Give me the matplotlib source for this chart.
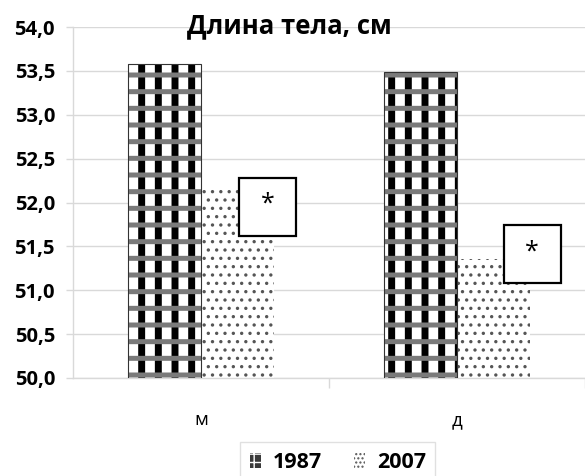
import matplotlib
matplotlib.use('Agg')
import matplotlib.pyplot as plt
import numpy as np
from matplotlib.patches import Rectangle, Patch
from matplotlib.ticker import FuncFormatter, MultipleLocator, FixedLocator

categories = ['м', 'д']
years = ['1987', '2007']
values_1987 = [53.58, 53.49]
values_2007 = [52.16, 51.36]
title = 'Длина тела, см'
mark = '*'

plt.rcParams['font.family'] = ['Open Sans', 'DejaVu Sans']

fig = plt.figure(figsize=(5.85, 4.76), dpi=100)
ax = fig.add_axes([73 / 585, 1 - 378 / 476, 512 / 585, 351 / 476])

x = np.arange(len(categories))
w = 0.285
grid_c = '#d9d9d9'

# 1987: black columns + grey bands (checkered look)
with plt.rc_context({'hatch.linewidth': 5.0}):
    ax.bar(x - w / 2, values_1987, w, color='white', edgecolor='black',
           hatch='|', linewidth=0, zorder=2)
with plt.rc_context({'hatch.linewidth': 3.6}):
    ax.bar(x - w / 2, values_1987, w, fill=False, edgecolor='#7a7a7a',
           hatch='-', linewidth=0, zorder=3)
ax.bar(x - w / 2, values_1987, w, fill=False, edgecolor='#333333', linewidth=0.8, zorder=4)

# 2007: small dots
with plt.rc_context({'hatch.linewidth': 1.2}):
    ax.bar(x + w / 2, values_2007, w, color='white', edgecolor='#555555',
           hatch='..', linewidth=0, zorder=2)

ax.set_xlim(-0.5, 1.5)
ax.set_ylim(50, 54)
ax.yaxis.set_major_locator(MultipleLocator(0.5))
ax.yaxis.set_major_formatter(FuncFormatter(lambda v, p: f'{v:.1f}'.replace('.', ',')))
ax.yaxis.grid(True, color=grid_c, linewidth=1.0, zorder=0)
ax.set_axisbelow(True)
ax.get_ygridlines()[-1].set_visible(False)

ax.set_xticks(x)
ax.set_xticklabels(categories, fontsize=13.5)
ax.xaxis.set_minor_locator(FixedLocator([0.5, 1.5]))
ax.tick_params(axis='x', which='major', length=0, pad=24)
ax.tick_params(axis='x', which='minor', length=7, color=grid_c, width=1)
ax.tick_params(axis='y', length=5, color=grid_c, width=1, pad=8, labelsize=14.5)
for lab in ax.get_yticklabels():
    lab.set_fontweight('bold')

for s in ['top', 'right']:
    ax.spines[s].set_visible(False)
for s in ['left', 'bottom']:
    ax.spines[s].set_color(grid_c)
    ax.spines[s].set_linewidth(1.0)

# significance boxes
box_pos = [(0.259, 51.95), (1.294, 51.41)]
bw, bh = 0.223, 0.66
for cx, cy in box_pos:
    ax.add_patch(Rectangle((cx - bw / 2, cy - bh / 2), bw, bh, facecolor='white',
                           edgecolor='black', linewidth=1.6, zorder=5))
    ax.text(cx, cy + 0.03, mark, ha='center', va='center', fontsize=18, zorder=6)

fig.text(0.495, 1 - 26 / 476, title, ha='center', va='center', fontsize=18.5, fontweight='bold')

# legend proxies (small swatches)
with plt.rc_context({'hatch.linewidth': 1.5}):
    h1 = Patch(facecolor='#3a3a3a', edgecolor='white', hatch='++', linewidth=0)
with plt.rc_context({'hatch.linewidth': 1.0}):
    h2 = Patch(facecolor='white', edgecolor='#555555', hatch='....', linewidth=0)

leg = fig.legend([h1, h2], years, loc='upper center',
                 bbox_to_anchor=(338 / 585, 1 - 442 / 476), borderaxespad=0, ncol=2,
                 frameon=True, fancybox=False, edgecolor=grid_c,
                 handlelength=0.5, handleheight=0.7, handletextpad=0.55,
                 columnspacing=1.5, borderpad=0.45,
                 prop={'weight': 'bold', 'size': 15.5})

fig.savefig('out.png', dpi=100)
